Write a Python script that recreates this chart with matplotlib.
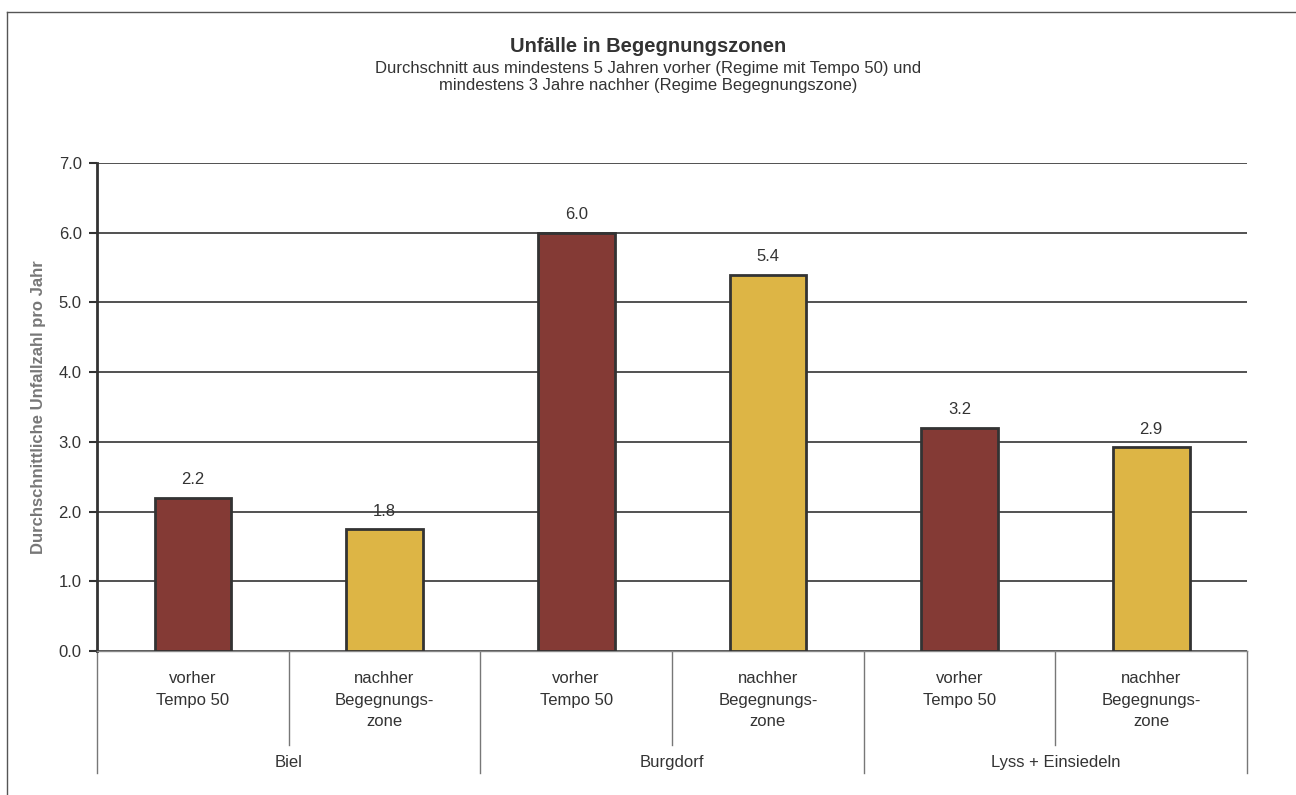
import matplotlib.pyplot as plt
import matplotlib.lines as lines
import matplotlib.transforms as mtransforms

plt.rcParams['font.family'] = ['Liberation Sans', 'DejaVu Sans']

GROUPS = ["Biel", "Burgdorf", "Lyss + Einsiedeln"]
SUB_LABELS = ["vorher\nTempo 50", "nachher\nBegegnungs-\nzone"] * 3
VALUES = [2.2, 1.75, 6.0, 5.4, 3.2, 2.92]
VALUE_LABELS = ["2.2", "1.8", "6.0", "5.4", "3.2", "2.9"]
COLORS = ["#843a35", "#ddb545"] * 3

W, H = 1296, 795
FS = 12
fig = plt.figure(figsize=(W / 100, H / 100), dpi=100)
fig.patch.set_facecolor("white")

# outer frame (only top and left visible)
fig.add_artist(lines.Line2D([7 / W, 7 / W], [0, 1 - 12 / H], transform=fig.transFigure,
                            color="#555555", linewidth=1))
fig.add_artist(lines.Line2D([7 / W, 1], [1 - 12 / H, 1 - 12 / H], transform=fig.transFigure,
                            color="#555555", linewidth=1))

ax = fig.add_axes([97 / W, 1 - 651 / H, 1150 / W, 488 / H])
x = list(range(len(VALUES)))
ax.bar(x, VALUES, width=0.4, color=COLORS, edgecolor="#333333", linewidth=2, zorder=3)
for xi, v, lab in zip(x, VALUES, VALUE_LABELS):
    ax.text(xi, v + 0.15, lab, ha="center", va="bottom", fontsize=FS, color="#333333")

ax.set_xlim(-0.5, len(VALUES) - 0.5)
ax.set_ylim(0, 7)
ax.set_yticks([i for i in range(8)])
ax.set_yticklabels([f"{i:.1f}" for i in range(8)], fontsize=FS, color="#333333")
ax.set_xticks([])
ax.yaxis.grid(True, color="#333333", linewidth=1.2, zorder=0)
ax.set_axisbelow(True)
for s in ["top", "right"]:
    ax.spines[s].set_visible(False)
ax.spines["left"].set_color("#333333")
ax.spines["left"].set_linewidth(2)
ax.spines["bottom"].set_color("#888888")
ax.spines["bottom"].set_linewidth(1)
ax.tick_params(axis="y", length=6, width=1.5, color="#333333", pad=5)

ax.set_ylabel("Durchschnittliche Unfallzahl pro Jahr", fontsize=FS, fontweight="bold",
              color="#777777", labelpad=9)

# category axis: separators and labels
trans = mtransforms.blended_transform_factory(ax.transData, ax.transAxes)
for b in range(len(VALUES) + 1):
    xb = b - 0.5
    ylow = -0.25 if b % 2 == 0 else -0.193
    ax.plot([xb, xb], [0, ylow], transform=trans, color="#777777", linewidth=1, clip_on=False)
for xi, lab in zip(x, SUB_LABELS):
    ax.text(xi, -0.041, lab, transform=trans, ha="center", va="top", fontsize=FS,
            color="#333333", linespacing=1.55)
for gi, g in enumerate(GROUPS):
    ax.text(2 * gi + 0.5, -0.229, g, transform=trans, ha="center", va="center", fontsize=FS,
            color="#333333")

fig.text(0.5, 1 - 47 / H, "Unfälle in Begegnungszonen", ha="center", va="center",
         fontsize=14.5, fontweight="bold", color="#333333")
fig.text(0.5, 1 - 77 / H, "Durchschnitt aus mindestens 5 Jahren vorher (Regime mit Tempo 50) und\n"
         "mindestens 3 Jahre nachher (Regime Begegnungszone)", ha="center", va="center",
         fontsize=FS, color="#333333", linespacing=1.22)

fig.savefig("out.png", dpi=100)
